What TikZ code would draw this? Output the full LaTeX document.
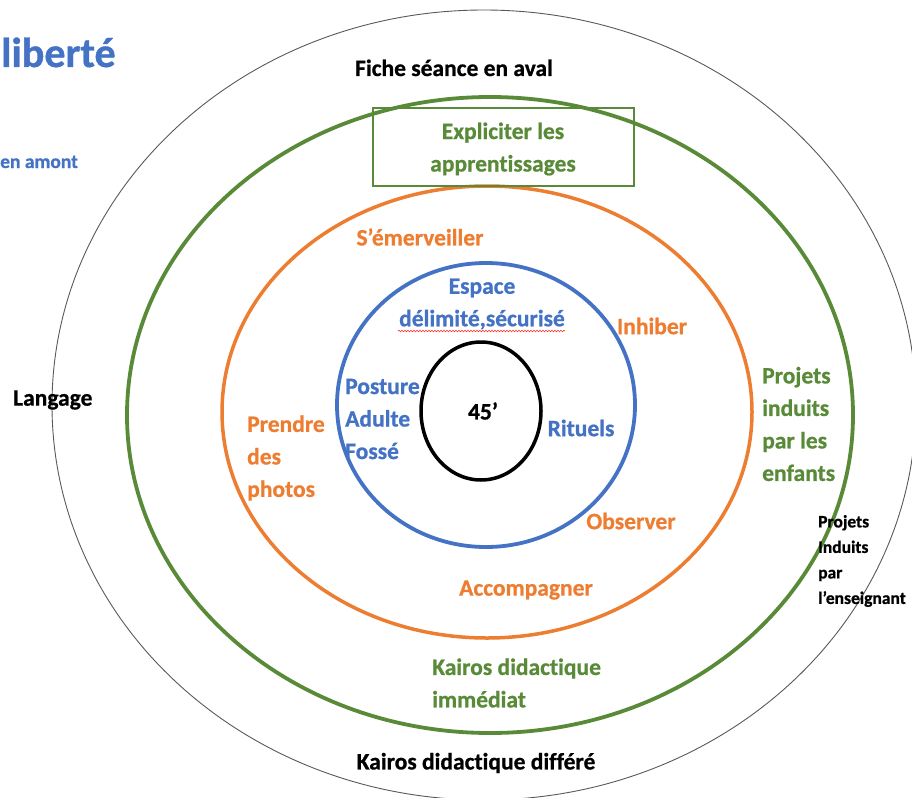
\documentclass[tikz,border=0pt]{standalone}
\usepackage{fontspec}
\setmainfont{Carlito}[Ligatures={NoCommon}, BoldFeatures={FakeBold=0.8}]
\usetikzlibrary{decorations.pathmorphing}

\tikzset{
  ring/.style={line width=3.8pt},
  lbl/.style={font=\bfseries\fontsize{23.5}{32.5}\selectfont, inner sep=0pt, align=left},
  small lbl/.style={font=\bfseries\fontsize{17.5}{25.5}\selectfont, inner sep=0pt, align=left},
}

\begin{document}
\begin{tikzpicture}[x=1pt,y=-1pt]
        %colores
        \definecolor{bblue}{HTML}{4472C4}
        \definecolor{oorange}{HTML}{ED7D31}
        \definecolor{ggreen}{HTML}{588A38}
        \useasboundingbox (0,0) rectangle (912,797);

        % Anneaux
        \draw[gray!70!black, line width=0.9pt] (484,405) ellipse [x radius=432, y radius=395];
        \draw[ring, ggreen] (490,415) ellipse [x radius=363, y radius=318];
        \draw[ring, oorange, line width=3.5pt] (487,412) ellipse [x radius=265, y radius=226];
        \draw[ring, bblue] (486,405) ellipse [x radius=149, y radius=142];
        \draw[ring, black, line width=3.5pt] (481,411) ellipse [x radius=60, y radius=69];

        % Titre et marges
        \node[lbl, text=bblue, font=\bfseries\fontsize{42}{42}\selectfont, anchor=base west] (liberte) at (1,67) {liberté};
        \node[lbl, text=bblue, font=\bfseries\fontsize{19.5}{19.5}\selectfont, anchor=base west] (amont) at (0,168) {en amont};
        \node[lbl, anchor=base] (fiche) at (454,76) {Fiche séance en aval};
        \node[lbl, anchor=west] (langage) at (13,400) {Langage};
        \node[lbl] (differe) at (476,763) {Kairos didactique différé};
        \node[small lbl, anchor=west] (enseignant) at (818,561) {Projets\\Induits\\par\\l’enseignant};

        % Anneau vert
        \draw[ggreen, line width=1.3pt] (373,108) rectangle (634,186);
        \node[lbl, text=ggreen, align=center] (expliciter) at (503,149) {Expliciter les\\apprentissages};
        \node[lbl, text=ggreen, anchor=west] (enfants) at (762,424) {Projets\\induits\\par les\\enfants};
        \node[lbl, text=ggreen, anchor=west] (kairos) at (432,683) {Kairos didactique\\immédiat};

        % Anneau orange
        \node[lbl, text=oorange] (emerveiller) at (420,237) {S’émerveiller};
        \node[lbl, text=oorange] (inhiber) at (652,326) {Inhiber};
        \node[lbl, text=oorange, anchor=west] (photos) at (247,458) {Prendre\\des\\photos};
        \node[lbl, text=oorange] (observer) at (631,521) {Observer};
        \node[lbl, text=oorange] (accompagner) at (526,590) {Accompagner};

        % Anneau bleu
        \node[lbl, text=bblue, align=center] (espace) at (482,304) {Espace\\délimité,sécurisé};
        \draw[red!80, line width=0.6pt, decorate, decoration={snake, amplitude=0.8pt, segment length=3pt}] (398,331) -- (565,331);
        \node[lbl, text=bblue, anchor=west] (posture) at (345,419) {Posture\\Adulte\\Fossé};
        \node[lbl, text=bblue] (rituels) at (581,428) {Rituels};

        % Centre
        \node[lbl] (duree) at (483,411) {45’};
\end{tikzpicture}
\end{document}
